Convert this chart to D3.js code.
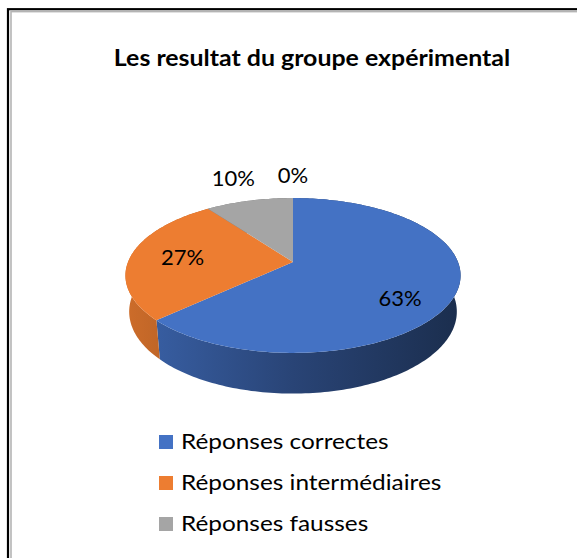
<!DOCTYPE html>
<html>
<head>
<meta charset="utf-8">
<script src="https://cdn.jsdelivr.net/npm/d3@7"></script>
<style>
  html, body { margin: 0; padding: 0; background: #fff; }
  svg { display: block; font-family: Lato, "Open Sans", sans-serif; }
</style>
</head>
<body>
<svg id="chart" width="577" height="558"></svg>
<script>
// chart data
const title = "Les resultat du groupe expérimental";
const categories = ["Réponses correctes", "Réponses intermédiaires", "Réponses fausses", ""];
const values = [63, 27, 10, 0];
const colors = ["#4472C4", "#ED7D31", "#A5A5A5", "#FFC000"];

const width = 577, height = 558;
const svg = d3.select("#chart");

// frame (chart area border, cut by the screenshot on the right and bottom)
svg.append("rect")
  .attr("x", 8).attr("y", 9.2).attr("width", 700).attr("height", 700)
  .attr("fill", "none").attr("stroke", "#000").attr("stroke-width", 2.2);
svg.append("rect")
  .attr("x", 11).attr("y", 11.6).attr("width", 700).attr("height", 700)
  .attr("fill", "none").attr("stroke", "#b4b4b4").attr("stroke-width", 1.6);

// title
svg.append("text")
  .attr("transform", "translate(312,66) scale(1.06,1)")
  .attr("text-anchor", "middle")
  .attr("font-weight", "bold")
  .attr("font-size", 23.5)
  .attr("fill", "#000")
  .text(title);

// 3d pie: circle of radius R tilted by elev, seen in perspective from distance D
const cx = 293, cy = 262;
const R = 165, thick = 41;
const sinE = 0.455, cosE = Math.sqrt(1 - sinE * sinE);
const D = 844;

function project(a, r, drop) {
  const depth = D + drop * sinE + r * Math.cos(a) * cosE;
  const s = D / depth;
  return [cx + r * Math.sin(a) * s, cy + (drop * cosE - r * Math.cos(a) * sinE) * s];
}

const pie = d3.pie().sort(null).value(d => d);
const arcs = pie(values);

function rim(a0, a1, r, drop) {
  const n = Math.max(2, Math.ceil((a1 - a0) / 0.02));
  return d3.range(n + 1).map(i => project(a0 + (a1 - a0) * i / n, r, drop));
}

const line = d3.line().curve(d3.curveLinear);
const defs = svg.append("defs");

// side walls, shaded left to right
arcs.forEach((d, i) => {
  if (d.endAngle - d.startAngle <= 0) return;
  const c = d3.rgb(colors[i]);
  const g = defs.append("linearGradient")
    .attr("id", "wall" + i)
    .attr("gradientUnits", "userSpaceOnUse")
    .attr("x1", cx - R).attr("x2", cx + R).attr("y1", 0).attr("y2", 0);
  [[0, 0.86], [0.5, 0.6], [1, 0.4]].forEach(([o, k]) => {
    g.append("stop").attr("offset", o)
      .attr("stop-color", d3.rgb(c.r * k, c.g * k, c.b * k).formatHex());
  });
  const top = rim(d.startAngle, d.endAngle, R, 0);
  const bottom = rim(d.startAngle, d.endAngle, R, thick).reverse();
  svg.append("path")
    .attr("d", line(top.concat(bottom)) + "Z")
    .attr("fill", "url(#wall" + i + ")");
});

// top faces
arcs.forEach((d, i) => {
  if (d.endAngle - d.startAngle <= 0) return;
  const pts = [[cx, cy]].concat(rim(d.startAngle, d.endAngle, R, 0));
  svg.append("path")
    .attr("d", line(pts) + "Z")
    .attr("fill", colors[i]);
});

// data labels: small slices outside, others inside (lowered on the front side)
const total = d3.sum(values);
arcs.forEach((d, i) => {
  const mid = (d.startAngle + d.endAngle) / 2;
  const share = d.value / total;
  const p = share < 0.15
    ? project(mid, R * 1.45, 0)
    : project(mid, R * 0.68, thick * Math.max(0, -Math.cos(mid)));
  svg.append("text")
    .attr("x", p[0]).attr("y", p[1])
    .attr("dy", "0.35em")
    .attr("text-anchor", "middle")
    .attr("font-size", 22)
    .attr("fill", "#000")
    .text(Math.round(share * 100) + "%");
});

// legend
const legendItems = categories.map((c, i) => ({ name: c, color: colors[i] })).filter(d => d.name);
const ly = d3.scalePoint().domain(legendItems.map(d => d.name)).range([442, 524]);
const lg = svg.append("g");
legendItems.forEach(d => {
  lg.append("rect")
    .attr("x", 159).attr("y", ly(d.name) - 7)
    .attr("width", 14).attr("height", 14)
    .attr("fill", d.color);
  lg.append("text")
    .attr("transform", `translate(181,${ly(d.name)}) scale(1.16,1)`)
    .attr("dy", "0.35em")
    .attr("font-size", 21)
    .attr("fill", "#000")
    .text(d.name);
});
</script>
</body>
</html>
